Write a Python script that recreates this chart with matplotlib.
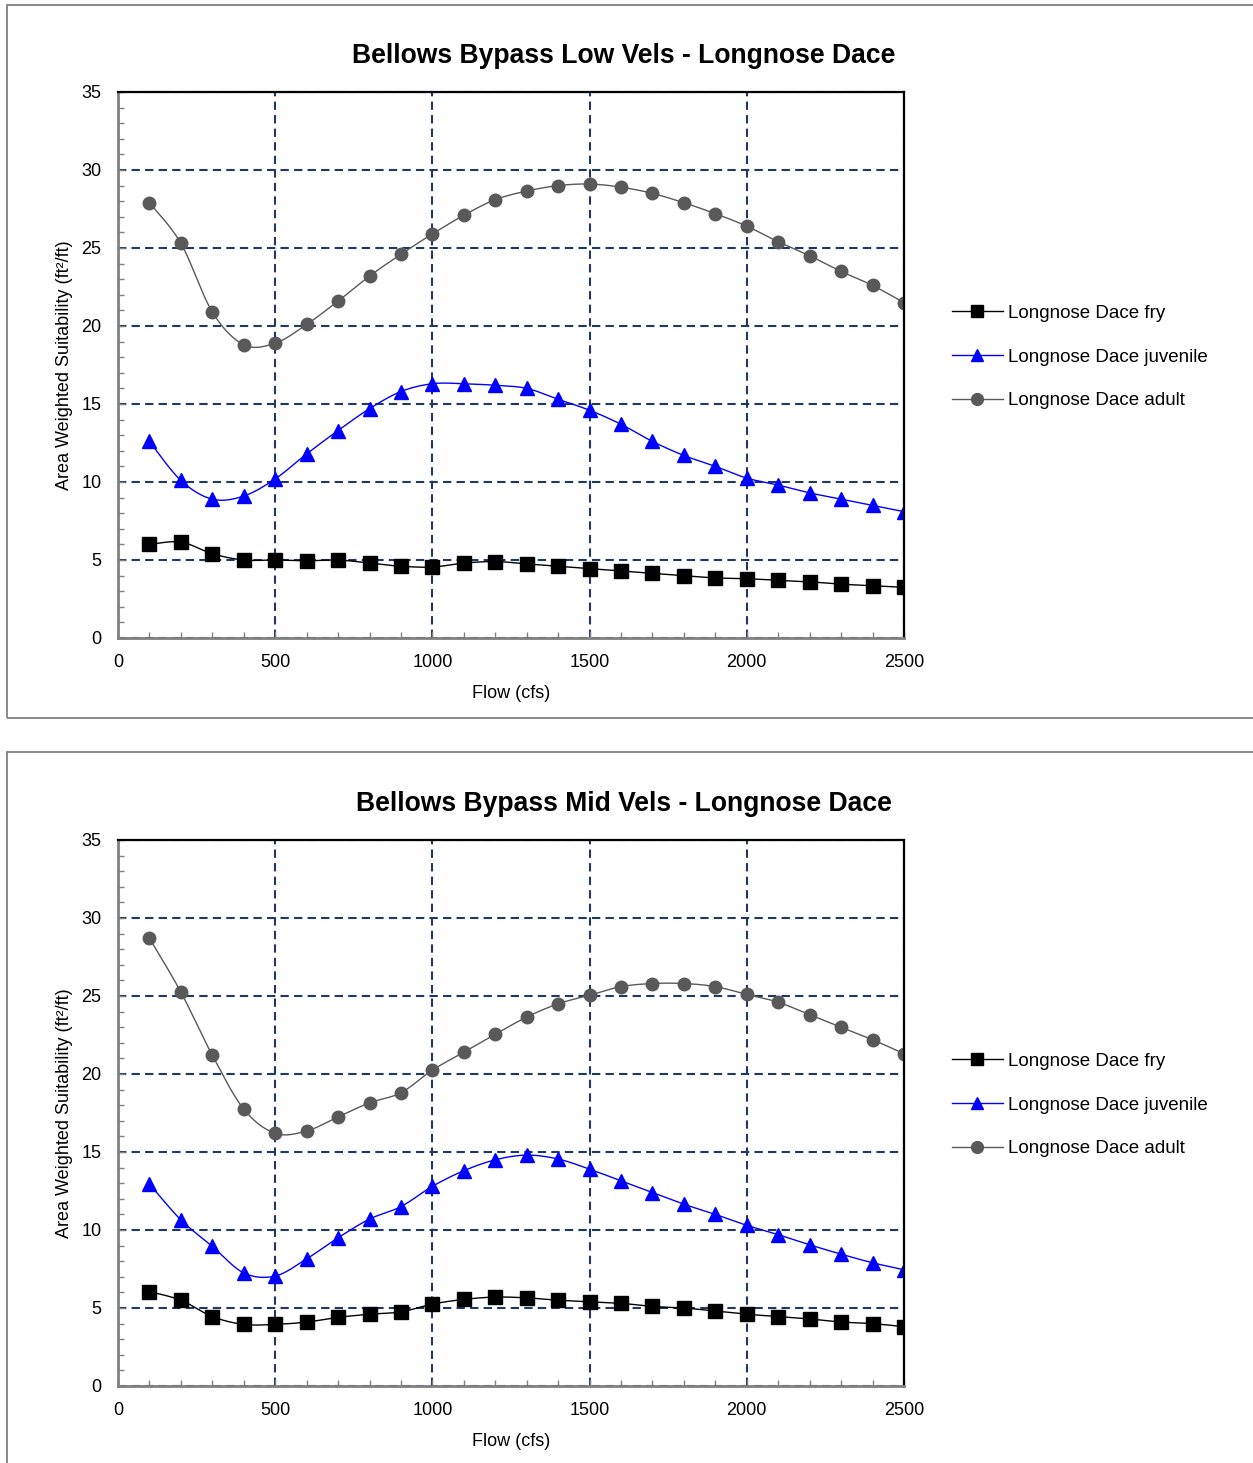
import numpy as np
import matplotlib
matplotlib.use("Agg")
import matplotlib.pyplot as plt
from matplotlib.patches import Rectangle

plt.rcParams['font.family'] = ['Liberation Sans', 'DejaVu Sans']

# ---- data ----
flow = [100, 200, 300, 400, 500, 600, 700, 800, 900, 1000, 1100, 1200, 1300,
        1400, 1500, 1600, 1700, 1800, 1900, 2000, 2100, 2200, 2300, 2400, 2500]

low_fry = [6.0, 6.15, 5.4, 5.0, 5.0, 4.95, 5.0, 4.8, 4.6, 4.55, 4.8, 4.9, 4.75,
           4.6, 4.45, 4.3, 4.15, 4.0, 3.85, 3.8, 3.7, 3.6, 3.45, 3.35, 3.25]
low_juv = [12.6, 10.1, 8.9, 9.1, 10.2, 11.8, 13.3, 14.7, 15.8, 16.3, 16.3, 16.2, 16.0,
           15.3, 14.6, 13.7, 12.6, 11.7, 11.0, 10.25, 9.8, 9.3, 8.9, 8.5, 8.1]
low_adult = [27.9, 25.3, 20.9, 18.8, 18.9, 20.1, 21.6, 23.2, 24.6, 25.9, 27.1, 28.1, 28.65,
             29.0, 29.1, 28.9, 28.5, 27.9, 27.2, 26.4, 25.4, 24.5, 23.5, 22.6, 21.5]

mid_fry = [6.05, 5.5, 4.45, 3.95, 3.95, 4.1, 4.4, 4.6, 4.75, 5.25, 5.55, 5.7, 5.65,
           5.5, 5.4, 5.3, 5.1, 5.0, 4.8, 4.6, 4.45, 4.3, 4.1, 4.0, 3.8]
mid_juv = [12.95, 10.65, 8.95, 7.25, 7.05, 8.15, 9.5, 10.7, 11.5, 12.8, 13.8, 14.5, 14.8,
           14.55, 13.9, 13.15, 12.4, 11.65, 11.0, 10.3, 9.7, 9.05, 8.45, 7.9, 7.45]
mid_adult = [28.7, 25.25, 21.2, 17.75, 16.2, 16.35, 17.25, 18.15, 18.8, 20.25, 21.4, 22.55, 23.65,
             24.5, 25.05, 25.6, 25.8, 25.8, 25.6, 25.1, 24.6, 23.8, 23.0, 22.2, 21.3]

labels = ["Longnose Dace fry", "Longnose Dace juvenile", "Longnose Dace adult"]
colors = ["#000000", "#0000FF", "#595959"]
markers = ["s", "^", "o"]
grid_col = "#1F3864"

W, H = 1253, 1463


def smooth(x, y, n=24):
    # Bezier smoothing through the points (same idea as Excel's smoothed line)
    x = np.asarray(x, float)
    y = np.asarray(y, float)
    px = np.r_[x[0], x, x[-1]]
    py = np.r_[y[0], y, y[-1]]
    t = np.linspace(0, 1, n)
    xs, ys = [], []
    for i in range(1, len(px) - 2):
        p0 = np.array([px[i - 1], py[i - 1]])
        p1 = np.array([px[i], py[i]])
        p2 = np.array([px[i + 1], py[i + 1]])
        p3 = np.array([px[i + 2], py[i + 2]])
        b1 = p1 + (p2 - p0) / 6
        b2 = p2 - (p3 - p1) / 6
        pts = ((1 - t) ** 3)[:, None] * p1 + (3 * (1 - t) ** 2 * t)[:, None] * b1 \
            + (3 * (1 - t) * t ** 2)[:, None] * b2 + (t ** 3)[:, None] * p2
        xs.extend(pts[:, 0])
        ys.extend(pts[:, 1])
    return xs, ys


def draw_panel(fig, top_px, title, series, frame_top, frame_bot):
    # outer chart frame
    fig.patches.append(Rectangle((7 / W, 1 - frame_bot / H), (W + 5 - 7) / W,
                                 (frame_bot - frame_top) / H, transform=fig.transFigure,
                                 fill=False, ec="#808080", lw=1.3))
    ax = fig.add_axes([118 / W, 1 - (top_px + 546) / H, 786 / W, 546 / H])
    for ys, lab, c, m in zip(series, labels, colors, markers):
        sx, sy = smooth(flow, ys)
        ax.plot(sx, sy, color=c, lw=1.0)
        ax.plot(flow, ys, ls="none", marker=m, color=c, ms=9.5 if m != "o" else 9)
        # legend proxy
        ax.plot([], [], color=c, lw=1.0, marker=m, ms=8.5, label=lab)

    ax.set_xlim(0, 2500)
    ax.set_ylim(0, 35)
    ax.set_xticks(np.arange(0, 2501, 500))
    ax.set_xticks(np.arange(0, 2501, 100), minor=True)
    ax.set_yticks(np.arange(0, 36, 5))
    ax.set_yticks(np.arange(0, 36, 1), minor=True)
    ax.tick_params(which="both", direction="in", colors="#808080", labelcolor="black",
                   labelsize=13)
    ax.tick_params(which="major", length=5, width=1)
    ax.tick_params(which="minor", length=4, width=1)
    ax.tick_params(axis="y", pad=12)
    ax.tick_params(axis="x", pad=11.5)
    ax.grid(True, which="major", color=grid_col, ls=(0, (4, 2.5)), lw=1.5)
    ax.set_axisbelow(True)
    for s in ["top", "right"]:
        ax.spines[s].set_color("black")
        ax.spines[s].set_linewidth(1.6)
    for s in ["left", "bottom"]:
        ax.spines[s].set_color("#808080")
        ax.spines[s].set_linewidth(2)

    ax.set_xlabel("Flow (cfs)", fontsize=13, labelpad=10)
    ax.set_ylabel("Area Weighted Suitability (ft²/ft)", fontsize=13, labelpad=6)
    fig.text(624 / W, 1 - (top_px - 36) / H, title, ha="center", va="center",
             fontsize=19.1, fontweight="bold")
    ax.legend(loc="center left", bbox_to_anchor=(935 / W, 1 - (top_px + 265) / H),
              bbox_transform=fig.transFigure, frameon=False, fontsize=13.5,
              handlelength=2.7, handletextpad=0.3, labelspacing=1.42)
    return ax


fig = plt.figure(figsize=(W / 100, H / 100), dpi=100)
draw_panel(fig, 92, "Bellows Bypass Low Vels - Longnose Dace",
           [low_fry, low_juv, low_adult], 5, 718)
draw_panel(fig, 840, "Bellows Bypass Mid Vels - Longnose Dace",
           [mid_fry, mid_juv, mid_adult], 752, 1470)

fig.savefig("out.png", dpi=100)
